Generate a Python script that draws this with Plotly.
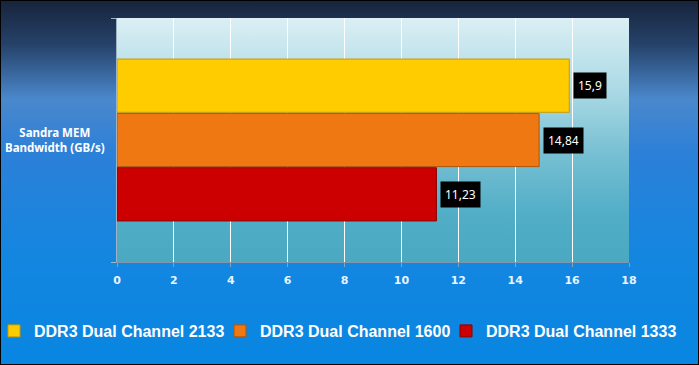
import base64
import plotly.graph_objects as go

# ---- data ----
category = ["Sandra MEM<br>Bandwidth (GB/s)"]
series_names = ["DDR3 Dual Channel 1333", "DDR3 Dual Channel 1600", "DDR3 Dual Channel 2133"]
series_values = [11.23, 14.84, 15.9]
value_labels = ["11,23", "14,84", "15,9"]
bar_colors = ["#cc0000", "#f07812", "#ffcc00"]
bar_edges = ["#8a0000", "#b0540a", "#c89a00"]
x_ticks = [0, 2, 4, 6, 8, 10, 12, 14, 16, 18]

W, H = 699, 365
ML, MR, MT, MB = 117, 70, 18, 103
PW, PH = W - ML - MR, H - MT - MB
BARGAP = 0.332

# one legend per series; left edge of each legend box in px (order = trace order)
legend_ids = ["legend3", "legend2", "legend"]
legend_left_px = [446, 220, -6]
LEGEND_CENTER_Y_PX = 331


def svg_gradient(stops):
    s = "".join(f'<stop offset="{o}" stop-color="{c}"/>' for o, c in stops)
    svg = ('<svg xmlns="http://www.w3.org/2000/svg" width="100" height="100" preserveAspectRatio="none">'
           '<defs><linearGradient id="g" x1="0" y1="0" x2="0" y2="1">' + s +
           '</linearGradient></defs><rect width="100" height="100" fill="url(#g)"/></svg>')
    return "data:image/svg+xml;base64," + base64.b64encode(svg.encode()).decode()


page_bg = svg_gradient([(0, "#17243c"), (0.12, "#26426a"), (0.27, "#4a88cc"),
                        (0.42, "#2c80d8"), (0.7, "#1486e0"), (1, "#0886e2")])
plot_bg = svg_gradient([(0, "#dbeff4"), (0.3, "#aad9e5"), (0.55, "#78c0d3"),
                        (0.8, "#52aec7"), (1, "#4aa8c1")])

fig = go.Figure()
for name, val, col, edge, lg in zip(series_names, series_values, bar_colors, bar_edges, legend_ids):
    fig.add_trace(go.Bar(
        x=[val], y=category, orientation="h", name=name, legend=lg,
        marker=dict(color=col, line=dict(color=edge, width=1)),
        hoverinfo="skip",
    ))

n = len(series_values)
slot = (1 - BARGAP) / n
annotations = []
for i, (val, lab) in enumerate(zip(series_values, value_labels)):
    yc = -(1 - BARGAP) / 2 + slot * (i + 0.5)
    annotations.append(dict(
        x=val, y=yc, xref="x", yref="y", text=lab, showarrow=False,
        xanchor="left", yanchor="middle", xshift=4,
        bgcolor="#000000", borderpad=4,
        font=dict(family="Noto Sans", size=12, color="#ffffff"),
    ))

annotations.append(dict(
    x=0, y=0, xref="paper", yref="y", xshift=-62, text=category[0],
    showarrow=False, xanchor="center", yanchor="middle", align="center",
    font=dict(family="Noto Sans", size=11.5, color="#ffffff", weight="bold"),
))

legend_style = dict(
    orientation="h", xanchor="left", yanchor="middle",
    y=-(LEGEND_CENTER_Y_PX - (H - MB)) / PH,
    bgcolor="rgba(0,0,0,0)", borderwidth=0,
    font=dict(family="Liberation Sans", size=16, color="#ffffff", weight="bold"),
    itemclick=False, itemdoubleclick=False,
)
legends = {}
for lg, px in zip(legend_ids, legend_left_px):
    legends[lg] = dict(legend_style, x=(px - ML) / PW)

fig.update_layout(
    width=W, height=H,
    margin=dict(l=ML, r=MR, t=MT, b=MB, pad=0, autoexpand=False),
    paper_bgcolor="#000000",
    plot_bgcolor="rgba(0,0,0,0)",
    barmode="group", bargap=BARGAP, bargroupgap=0.02,
    showlegend=True,
    xaxis=dict(
        range=[0, 18], tickvals=x_ticks, ticktext=[str(t) for t in x_ticks],
        showgrid=True, gridcolor="#ffffff", gridwidth=1, zeroline=False,
        showline=True, linecolor="#7f98ad", linewidth=1,
        ticks="outside", ticklen=4, tickcolor="#8aa0b4",
        ticklabelstandoff=4, automargin=False,
        tickfont=dict(family="DejaVu Sans", size=11, color="#e8f4ff", weight="bold"),
        fixedrange=True,
    ),
    yaxis=dict(
        range=[-0.5, 0.5], showticklabels=False, showgrid=False, zeroline=False,
        showline=True, linecolor="#9fb3c4", linewidth=1, automargin=False,
        ticks="outside", ticklen=5, tickcolor="#9fb3c4", tickson="boundaries",
        fixedrange=True,
    ),
    annotations=annotations,
    images=[
        dict(source=page_bg, xref="paper", yref="paper",
             x=-(ML - 1) / PW, y=1 + (MT - 1) / PH,
             sizex=(W - 2) / PW, sizey=(H - 2) / PH,
             xanchor="left", yanchor="top", sizing="stretch", layer="below"),
        dict(source=plot_bg, xref="paper", yref="paper",
             x=0, y=1, sizex=1, sizey=1,
             xanchor="left", yanchor="top", sizing="stretch", layer="below"),
    ],
    **legends,
)

fig.write_html("out.html", config={"displayModeBar": False},
               post_script="document.body.style.margin='0';document.body.style.overflow='hidden';")
